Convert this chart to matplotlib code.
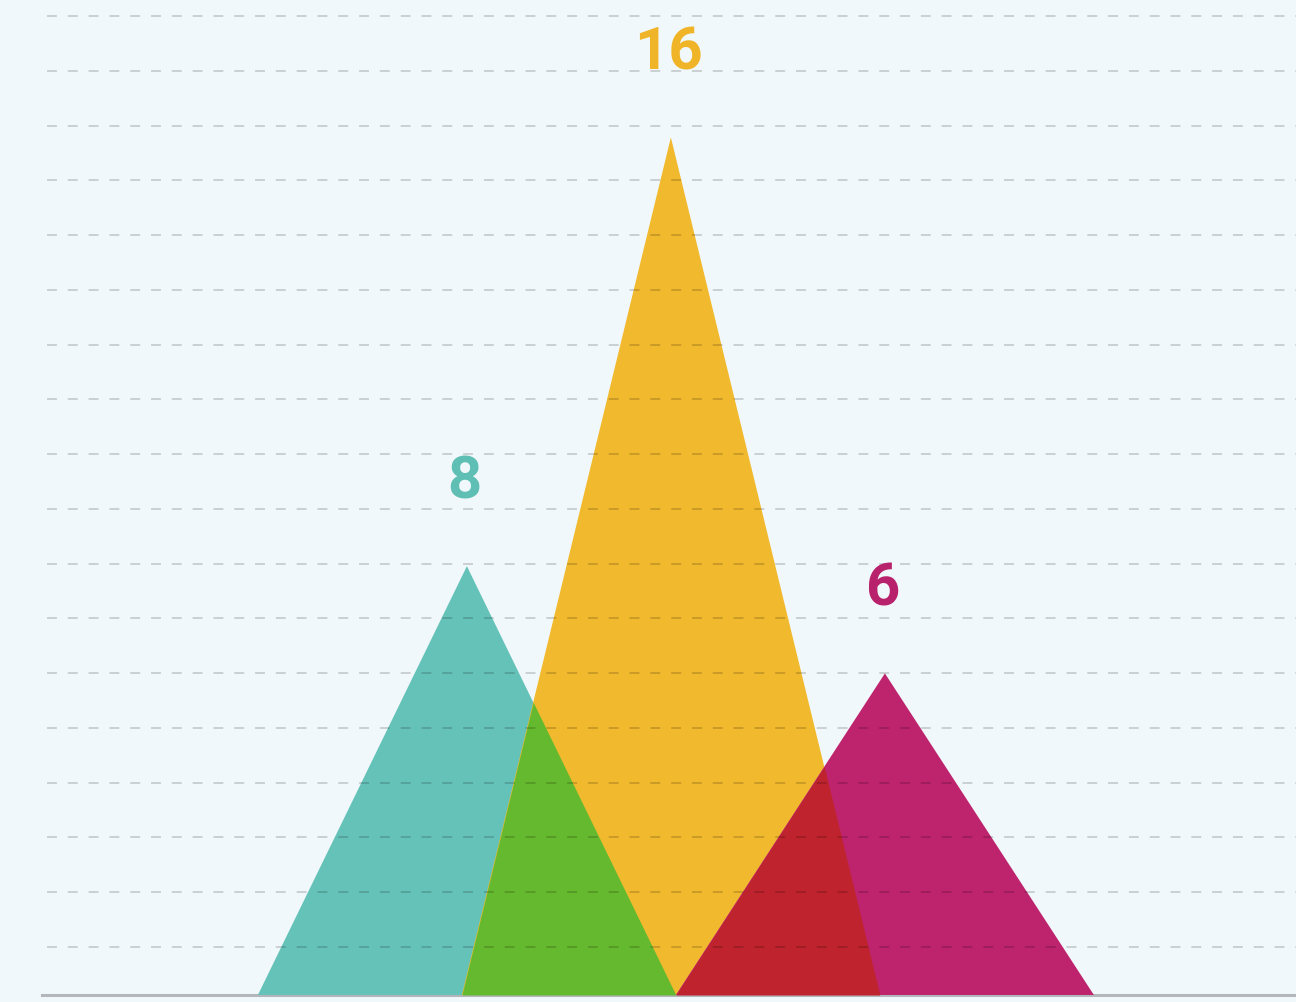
import numpy as np
import matplotlib.pyplot as plt
from matplotlib.colors import to_rgb
from matplotlib import font_manager

# %% Data

categories = ["A", "B", "C"]
values = [8, 16, 6]
colors = ["#65c2b9", "#f1b92e", "#be236e"]
label_colors = ["#5fbfb4", "#f0b429", "#b8216b"]

# layout
positions = [0, 0.976, 2]
half_width = 1.0
bg = "#f1f8fb"

# %% Figure

fig = plt.figure(figsize=(12.96, 10.02), dpi=100, facecolor=bg)
ax = fig.add_axes([42 / 1296, 7 / 1002, 1 - 42 / 1296, 995 / 1002])
ax.set_facecolor(bg)

ax.set_xlim(-2.033, 3.967)
ax.set_ylim(0, 995 / 53.6)


def tent(xx, x0, h):
    return np.interp(xx, [x0 - half_width, x0, x0 + half_width], [0, h, 0], left=0, right=0)


# triangles
for x0, v, c in zip(positions, values, colors):
    ax.fill([x0 - half_width, x0, x0 + half_width], [0, v, 0], color=c, lw=0, zorder=2)

# overlaps drawn with a "darken" blend (channel-wise minimum)
xx = np.linspace(-2, 4, 6001)
for i in range(len(values)):
    for j in range(i + 1, len(values)):
        top = np.minimum(tent(xx, positions[i], values[i]), tent(xx, positions[j], values[j]))
        if top.max() <= 0:
            continue
        dark = np.minimum(to_rgb(colors[i]), to_rgb(colors[j]))
        ax.fill_between(xx, 0, top, where=top > 0, color=dark, lw=0, zorder=3)

# value labels
fp = font_manager.FontProperties(family="Roboto", weight="bold", size=43)
for x0, v, c in zip(positions, values, label_colors):
    ax.text(x0 - 0.01, v + 1.57, str(v), color=c, ha="center", va="center",
            fontproperties=fp, zorder=5)

# dashed gridlines on top
grid_levels = 48 / 53.6 + np.arange(18) * (54.76 / 53.6)
ax.hlines(grid_levels, -2.01, 4.0, colors="black", alpha=0.16, lw=1.4,
          linestyles=(0, (5.1, 5.6)), zorder=4)

# baseline
ax.axhline(0, color="#b3b7bb", lw=2.2, zorder=1, clip_on=False)

ax.set_xticks([])
ax.set_yticks([])
for s in ax.spines.values():
    s.set_visible(False)

fig.savefig("out.png", dpi=100, facecolor=bg)
